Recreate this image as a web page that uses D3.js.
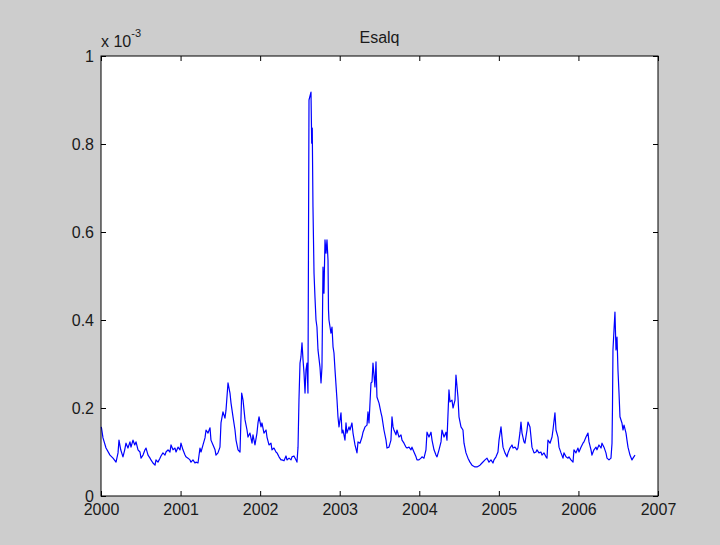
<!DOCTYPE html>
<html>
<head>
<meta charset="utf-8">
<script src="https://cdn.jsdelivr.net/npm/d3@7"></script>
<style>
  html, body { margin: 0; padding: 0; background: #cdcdcd; }
  svg { display: block; }
  text { font-family: "Liberation Sans", Arial, Helvetica, sans-serif; fill: #1a1a1a; }
</style>
</head>
<body>
<div id="chart"></div>
<script>
// time as years since 2000, values in units of 10^-3
var yearsSince2000 = [
  0.004, 0.025, 0.063, 0.113, 0.151, 0.189, 0.214, 0.226, 0.248, 0.276,
  0.298, 0.314, 0.339, 0.364, 0.377, 0.402, 0.424, 0.440, 0.465, 0.490,
  0.503, 0.528, 0.553, 0.566, 0.591, 0.616, 0.628, 0.653, 0.679, 0.691,
  0.716, 0.741, 0.754, 0.779, 0.804, 0.817, 0.842, 0.867, 0.880, 0.905,
  0.930, 0.943, 0.968, 0.993, 1.005, 1.030, 1.056, 1.068, 1.093, 1.118,
  1.131, 1.156, 1.181, 1.194, 1.219, 1.244, 1.257, 1.282, 1.307, 1.320,
  1.345, 1.370, 1.382, 1.408, 1.433, 1.445, 1.470, 1.495, 1.508, 1.533,
  1.558, 1.571, 1.596, 1.621, 1.634, 1.659, 1.684, 1.697, 1.722, 1.747,
  1.768, 1.785, 1.810, 1.835, 1.847, 1.872, 1.898, 1.910, 1.935, 1.960,
  1.973, 1.986, 2.011, 2.023, 2.048, 2.074, 2.086, 2.111, 2.136, 2.149,
  2.174, 2.199, 2.212, 2.237, 2.262, 2.275, 2.300, 2.325, 2.337, 2.363,
  2.388, 2.400, 2.425, 2.451, 2.463, 2.476, 2.488, 2.501, 2.513, 2.526,
  2.539, 2.551, 2.564, 2.576, 2.589, 2.601, 2.614, 2.639, 2.648, 2.655,
  2.664, 2.677, 2.689, 2.702, 2.714, 2.727, 2.752, 2.765, 2.777, 2.790,
  2.802, 2.815, 2.828, 2.840, 2.853, 2.859, 2.865, 2.890, 2.903, 2.916,
  2.928, 2.941, 2.966, 2.978, 2.991, 3.016, 3.029, 3.041, 3.066, 3.079,
  3.091, 3.117, 3.129, 3.154, 3.167, 3.192, 3.217, 3.230, 3.255, 3.280,
  3.293, 3.318, 3.343, 3.355, 3.368, 3.393, 3.406, 3.418, 3.443, 3.456,
  3.468, 3.494, 3.519, 3.531, 3.556, 3.582, 3.594, 3.619, 3.644, 3.657,
  3.670, 3.682, 3.707, 3.720, 3.745, 3.770, 3.783, 3.808, 3.833, 3.846,
  3.871, 3.896, 3.908, 3.933, 3.959, 3.971, 3.996, 4.021, 4.034, 4.059,
  4.084, 4.097, 4.122, 4.147, 4.160, 4.185, 4.210, 4.223, 4.248, 4.273,
  4.285, 4.311, 4.336, 4.348, 4.373, 4.386, 4.411, 4.424, 4.449, 4.461,
  4.486, 4.499, 4.524, 4.549, 4.562, 4.587, 4.612, 4.637, 4.662, 4.700,
  4.725, 4.763, 4.788, 4.826, 4.851, 4.876, 4.901, 4.926, 4.939, 4.964,
  4.989, 5.002, 5.027, 5.039, 5.052, 5.077, 5.102, 5.115, 5.140, 5.165,
  5.178, 5.203, 5.228, 5.240, 5.266, 5.278, 5.291, 5.316, 5.328, 5.354,
  5.366, 5.391, 5.404, 5.416, 5.442, 5.467, 5.479, 5.504, 5.529, 5.542,
  5.567, 5.592, 5.605, 5.617, 5.643, 5.668, 5.680, 5.705, 5.718, 5.743,
  5.756, 5.781, 5.806, 5.818, 5.844, 5.869, 5.881, 5.906, 5.932, 5.944,
  5.969, 5.994, 6.007, 6.032, 6.057, 6.070, 6.095, 6.120, 6.133, 6.158,
  6.170, 6.195, 6.221, 6.233, 6.258, 6.284, 6.296, 6.321, 6.346, 6.359,
  6.384, 6.409, 6.422, 6.428, 6.434, 6.447, 6.459, 6.472, 6.485, 6.497,
  6.510, 6.522, 6.547, 6.560, 6.573, 6.598, 6.610, 6.623, 6.648, 6.673,
  6.686, 6.711
]

var esalq = [
  0.157, 0.132, 0.109, 0.093, 0.086, 0.077, 0.098, 0.127, 0.105, 0.089,
  0.105, 0.120, 0.109, 0.123, 0.111, 0.127, 0.116, 0.123, 0.105, 0.100,
  0.086, 0.093, 0.105, 0.109, 0.093, 0.086, 0.082, 0.075, 0.070, 0.082,
  0.077, 0.086, 0.091, 0.098, 0.093, 0.100, 0.105, 0.100, 0.116, 0.105,
  0.109, 0.100, 0.111, 0.105, 0.120, 0.105, 0.093, 0.089, 0.086, 0.082,
  0.077, 0.082, 0.075, 0.077, 0.075, 0.109, 0.100, 0.116, 0.132, 0.150,
  0.143, 0.155, 0.127, 0.116, 0.105, 0.093, 0.098, 0.111, 0.166, 0.191,
  0.177, 0.195, 0.257, 0.234, 0.211, 0.180, 0.150, 0.127, 0.105, 0.100,
  0.234, 0.218, 0.173, 0.150, 0.134, 0.143, 0.120, 0.139, 0.116, 0.143,
  0.166, 0.180, 0.157, 0.166, 0.143, 0.150, 0.134, 0.116, 0.120, 0.105,
  0.109, 0.100, 0.098, 0.089, 0.082, 0.082, 0.080, 0.091, 0.082, 0.086,
  0.082, 0.089, 0.091, 0.082, 0.077, 0.111, 0.218, 0.302, 0.316, 0.348,
  0.309, 0.280, 0.234, 0.286, 0.302, 0.234, 0.900, 0.918, 0.802, 0.836,
  0.657, 0.507, 0.452, 0.400, 0.384, 0.332, 0.293, 0.257, 0.293, 0.520,
  0.461, 0.582, 0.552, 0.582, 0.536, 0.423, 0.400, 0.370, 0.384, 0.339,
  0.325, 0.286, 0.218, 0.180, 0.157, 0.189, 0.143, 0.150, 0.127, 0.166,
  0.143, 0.157, 0.150, 0.166, 0.143, 0.116, 0.098, 0.123, 0.120, 0.134,
  0.145, 0.157, 0.161, 0.191, 0.166, 0.257, 0.259, 0.302, 0.248, 0.305,
  0.225, 0.211, 0.189, 0.180, 0.150, 0.127, 0.109, 0.111, 0.127, 0.180,
  0.157, 0.150, 0.139, 0.150, 0.134, 0.139, 0.127, 0.120, 0.111, 0.109,
  0.111, 0.105, 0.111, 0.100, 0.089, 0.082, 0.082, 0.086, 0.089, 0.086,
  0.105, 0.145, 0.134, 0.145, 0.127, 0.105, 0.093, 0.089, 0.105, 0.123,
  0.150, 0.134, 0.145, 0.127, 0.241, 0.214, 0.218, 0.200, 0.218, 0.275,
  0.225, 0.180, 0.157, 0.150, 0.120, 0.098, 0.086, 0.077, 0.070, 0.066,
  0.066, 0.070, 0.075, 0.082, 0.086, 0.077, 0.082, 0.075, 0.082, 0.089,
  0.100, 0.127, 0.157, 0.134, 0.111, 0.098, 0.089, 0.098, 0.109, 0.116,
  0.109, 0.111, 0.105, 0.109, 0.145, 0.168, 0.143, 0.123, 0.120, 0.150,
  0.168, 0.157, 0.134, 0.111, 0.098, 0.100, 0.105, 0.098, 0.100, 0.093,
  0.098, 0.089, 0.086, 0.127, 0.120, 0.134, 0.150, 0.189, 0.150, 0.134,
  0.111, 0.098, 0.086, 0.098, 0.089, 0.086, 0.089, 0.082, 0.077, 0.105,
  0.098, 0.109, 0.100, 0.111, 0.120, 0.123, 0.134, 0.143, 0.123, 0.105,
  0.093, 0.105, 0.111, 0.105, 0.116, 0.109, 0.120, 0.111, 0.098, 0.086,
  0.082, 0.086, 0.120, 0.202, 0.332, 0.377, 0.418, 0.332, 0.361, 0.286,
  0.234, 0.180, 0.166, 0.150, 0.161, 0.143, 0.127, 0.111, 0.093, 0.082,
  0.086, 0.093
]

var xTicks = [2000, 2001, 2002, 2003, 2004, 2005, 2006, 2007]
var yTicks = [0, 0.2, 0.4, 0.6, 0.8, 1]

;(function () {

  /***** Configuration *****/
  var margin = { top: 56, right: 62, bottom: 49, left: 101 }
  var width = 720 - margin.left - margin.right
  var height = 545 - margin.top - margin.bottom

  var svg = d3.select("#chart")
    .append("svg")
    .attr("width", width + margin.left + margin.right)
    .attr("height", height + margin.top + margin.bottom)

  svg.append("rect")
    .attr("width", width + margin.left + margin.right)
    .attr("height", height + margin.top + margin.bottom)
    .attr("fill", "#cdcdcd")

  var g = svg.append("g")
    .attr("transform", "translate(" + margin.left + "," + margin.top + ")")

  var x = d3.scaleLinear().domain([2000, 2007]).range([0, width])
  var y = d3.scaleLinear().domain([0, 1]).range([height, 0])

  g.append("rect")
    .attr("width", width)
    .attr("height", height)
    .attr("fill", "#fff")

  var points = yearsSince2000.map(function (t, i) {
    return { year: 2000 + t, value: esalq[i] }
  })

  var line = d3.line()
    .x(function (d) { return x(d.year) })
    .y(function (d) { return y(d.value) })

  g.append("path")
    .datum(points)
    .attr("fill", "none")
    .attr("stroke", "#0000ff")
    .attr("stroke-width", 1.2)
    .attr("stroke-linejoin", "round")
    .attr("d", line)

  /***** Axes (ticks point inward, MATLAB style) *****/
  var yFmt = function (d) { return String(+d.toFixed(1)) }

  var styleAxis = function (sel) {
    sel.select(".domain").remove()
    sel.selectAll(".tick line").attr("stroke", "#000")
    sel.selectAll("text")
      .attr("fill", "#1a1a1a")
      .style("font-size", "16px")
  }

  g.append("g")
    .attr("transform", "translate(0," + height + ")")
    .call(d3.axisBottom(x).tickValues(xTicks).tickFormat(d3.format("d"))
      .tickSizeInner(-5).tickSizeOuter(0).tickPadding(8))
    .call(styleAxis)

  g.append("g")
    .call(d3.axisTop(x).tickValues(xTicks).tickFormat("")
      .tickSizeInner(-5).tickSizeOuter(0))
    .call(styleAxis)

  g.append("g")
    .call(d3.axisLeft(y).tickValues(yTicks).tickFormat(yFmt)
      .tickSizeInner(-5).tickSizeOuter(0).tickPadding(7))
    .call(styleAxis)

  g.append("g")
    .attr("transform", "translate(" + width + ",0)")
    .call(d3.axisRight(y).tickValues(yTicks).tickFormat("")
      .tickSizeInner(-5).tickSizeOuter(0))
    .call(styleAxis)

  g.append("rect")
    .attr("width", width)
    .attr("height", height)
    .attr("fill", "none")
    .attr("stroke", "#000")
    .attr("stroke-width", 1)

  /***** Title and exponent *****/
  g.append("text")
    .attr("x", width / 2)
    .attr("y", -13)
    .attr("text-anchor", "middle")
    .style("font-size", "16px")
    .text("Esalq")

  var expo = g.append("text")
    .attr("x", 0)
    .attr("y", -9)
    .style("font-size", "16px")
  expo.append("tspan").text("x 10")
  expo.append("tspan")
    .attr("dy", -10)
    .style("font-size", "11px")
    .text("-3")

})()
</script>
</body>
</html>
